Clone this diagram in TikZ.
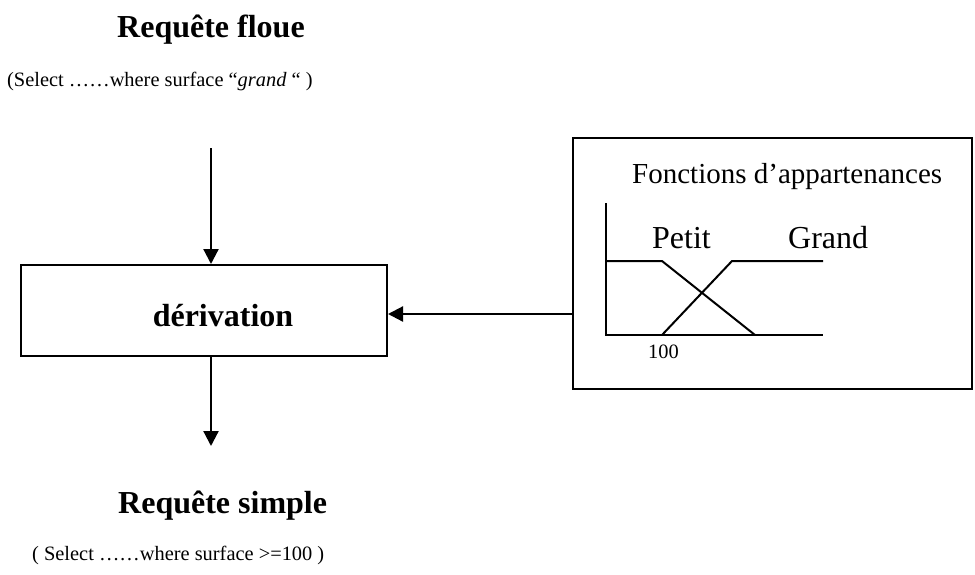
\documentclass[tikz,border=0pt]{standalone}
\usepackage{fontspec}
\setmainfont{Liberation Serif}
\usepackage{tikz}
\usetikzlibrary{arrows.meta,positioning,calc}
\tikzset{
  ttl/.style={font=\fontsize{32}{38}\selectfont\bfseries,inner sep=0pt},
  qry/.style={font=\fontsize{20.4}{24}\selectfont,inner sep=0pt},
  lbl/.style={font=\fontsize{29}{34}\selectfont,inner sep=0pt},
  blk/.style={draw,line width=2pt,inner sep=0pt},
  fl/.style={line width=2.2pt,-{Triangle[length=15pt,width=15pt]}},
  crv/.style={line width=2pt,line join=miter},
}

\begin{document}
\begin{tikzpicture}[x=1pt, y=-1pt]
  \useasboundingbox (0,0) rectangle (975,574);
  % fuzzy query
  \node[ttl, anchor=base west] (rf) at (117,37) {Requête floue};
  \node[qry, anchor=base west] (qf) at (7,86) {(Select ……where surface “\textit{grand} “ )};
  % derivation block
  \node[blk, minimum width=366pt, minimum height=91pt] (der) at (204,310.5) {};
  \node[ttl, anchor=base] (dertxt) at (223,326) {dérivation};
  % crisp query
  \node[ttl, anchor=base west] (rs) at (118,513) {Requête simple};
  \node[qry, anchor=base west] (qs) at (32,560) {( Select ……where surface >=100 )};
  % membership functions
  \node[blk, line width=2.5pt, minimum width=399pt, minimum height=251pt] (fbox) at (772.5,263.5) {};
  \node[lbl, anchor=base west] (ftxt) at (632,183) {Fonctions d’appartenances};
  \node[lbl, font=\fontsize{32}{38}\selectfont, anchor=base west] (pt) at (652,248) {Petit};
  \node[lbl, font=\fontsize{32}{38}\selectfont, anchor=base west] (gd) at (788,248) {Grand};
  \node[qry, anchor=base west] (hund) at (648,358) {100};
  \draw[crv] (606,203) -- (606,335) -- (823,335);
  \draw[crv] (606,261) -- (662,261) -- (755,335);
  \draw[crv] (662,335) -- (732,261) -- (823,261);
  % connectors
  \coordinate (in) at (211,148);
  \coordinate (out) at (211,446);
  \draw[fl] (in) -- (in |- der.north);
  \draw[fl] (out |- der.south) -- (out);
  \draw[fl] (fbox.west |- 0,314) -- (der.east |- 0,314);
\end{tikzpicture}
\end{document}
